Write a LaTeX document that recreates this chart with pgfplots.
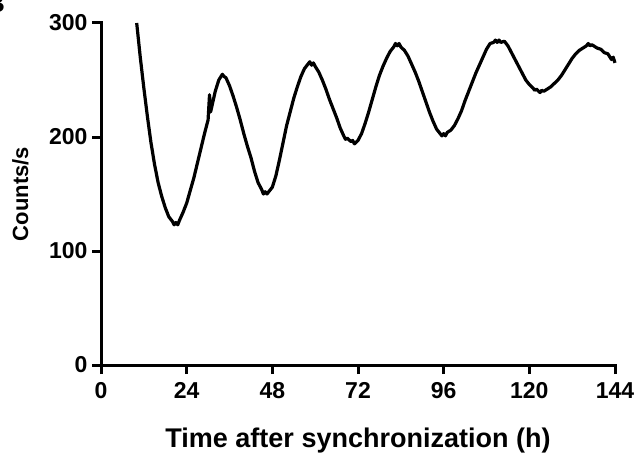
\documentclass[border=0pt]{standalone}
\usepackage{fontspec}
\setmainfont{Liberation Sans}
\usepackage{pgfplots}
\pgfplotsset{compat=1.18}

\begin{document}
\begin{tikzpicture}
\useasboundingbox (0pt,0pt) rectangle (639pt,453pt);
% panel letter, cut off at the corner as in the source
\node[anchor=base west, inner sep=0, font=\bfseries\fontsize{26}{26}\selectfont] at (-14pt,440pt) {B};
\begin{axis}[
  at={(101pt,88pt)}, anchor=south west,
  scale only axis, width=514pt, height=342pt,
  xmin=0, xmax=144, ymin=0, ymax=300,
  axis lines=left,
  axis line style={-, line width=3pt, line cap=rect},
  xtick={0,24,...,144}, ytick={0,100,200,300},
  tick align=outside, major tick length=9pt,
  tick style={line width=3pt, black},
  /pgf/number format/assume math mode=true,
  ticklabel style={font=\bfseries\fontsize{23}{23}\selectfont},
  xticklabel style={yshift=-5pt},
  yticklabel style={xshift=-1pt},
  xlabel={Time after synchronization (h)},
  ylabel={Counts/s},
  every axis x label/.style={at={(axis description cs:0.5,-0.24)}, anchor=base,
    font=\bfseries\fontsize{27}{27}\selectfont},
  every axis y label/.style={at={(axis description cs:-0.157,0.5)}, anchor=center, rotate=90,
    font=\bfseries\fontsize{22}{22}\selectfont},
  clip=false,
]
\addplot[black, line width=3.2pt, line join=round] coordinates {
(10,300) (11,270) (12,243) (13,218) (14,195) (15,176) (16,160) (17,148) (18,138) (19,130)
(20,126) (20.5,123) (21,125) (21.5,123) (22,127) (23,134) (24,142) (25,153) (26,164) (27,177) (28,190) (29,203)
(30,215) (30.4,237) (30.7,222) (31,226) (32,240) (33,250) (34,255) (34.5,253) (35,252) (36,245) (37,236)
(38,226) (39,215) (40,203) (41,192) (42,182) (43,170) (44,160) (45,154) (45.5,150) (46,152) (46.5,150) (47,152)
(48,156) (49,166) (50,180) (51,195) (52,210) (53,222) (54,234) (55,244) (56,253) (57,260)
(58,264) (58.5,266) (59,263) (59.5,265) (60,262) (61,257) (62,250) (63,242) (64,233) (65,225) (66,217) (67,208)
(68,201) (68.5,198) (69,199) (70,196) (70.5,197) (71,194) (72,197) (73,203) (74,212) (75,222) (76,233) (77,244)
(78,254) (79,262) (80,269) (81,275) (82,279) (82.5,282) (83,280) (83.5,282) (84,279) (85,276) (86,271) (87,264)
(88,257) (89,249) (90,240) (91,231) (92,222) (93,214) (94,207) (95,203) (95.5,201) (96,203) (96.5,201) (97,204)
(98,206) (99,210) (100,216) (101,223) (102,232) (103,240) (104,248) (105,256) (106,263) (107,270)
(108,277) (109,282) (110,283) (110.5,285) (111,283) (111.5,285) (112,283) (113,284) (114,280) (115,274) (116,268) (117,262)
(118,256) (119,250) (120,246) (121,243) (121.5,241) (122,242) (123,239) (123.5,241) (124,240) (125,242) (126,244) (127,247)
(128,250) (129,254) (130,259) (131,264) (132,269) (133,273) (134,276) (135,278) (136,280) (136.5,282) (137,280) (137.5,281)
(138,280) (139,278) (140,277) (141,274) (142,273) (143,268) (143.5,270) (144,265)
};
\end{axis}
\end{tikzpicture}
\end{document}
